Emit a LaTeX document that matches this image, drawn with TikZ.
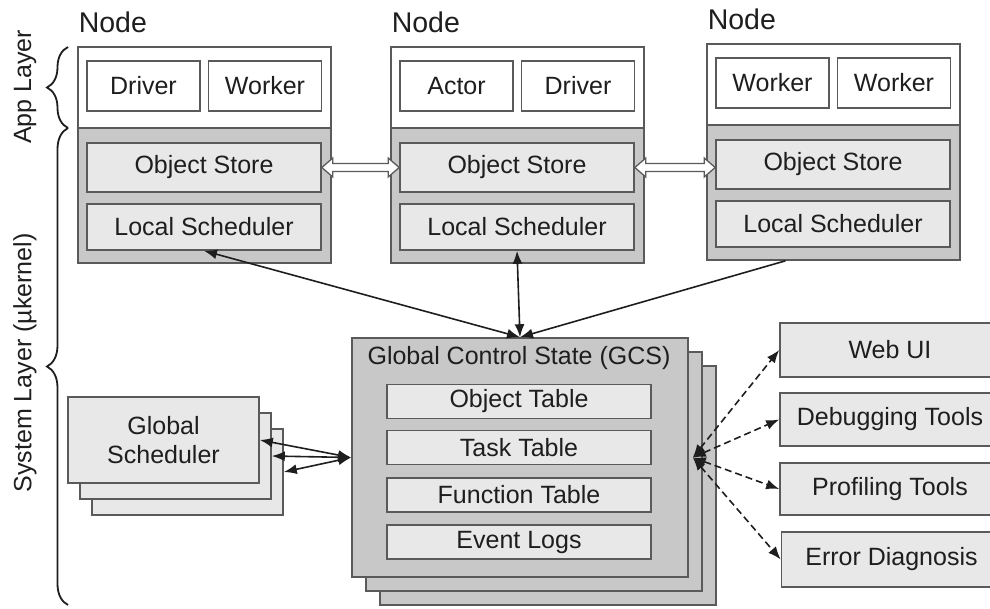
\documentclass[tikz,border=0pt]{standalone}
\usepackage{fontspec}
\setmainfont{Liberation Sans}
\usetikzlibrary{calc,arrows.meta,decorations.pathreplacing}
\definecolor{edgegray}{RGB}{90,90,90}
\definecolor{sysgray}{RGB}{200,200,200}
\definecolor{boxgray}{RGB}{232,232,232}
\definecolor{inkgray}{RGB}{30,30,30}
% hollow two-way arrow between two object stores
\newcommand{\fatlink}[2]{%
  \path (#1.east -| #2.west) coordinate (fatR);
  \draw[draw=edgegray, fill=white, line width=1.3pt] (#1.east) -- ++(11,-9.5) -- ++(0,5.5)
    -- ($(fatR)+(-11,-4)$) -- ++(0,-5.5) -- (fatR) -- ++(-11,9.5) -- ++(0,-5.5)
    -- ($(#1.east)+(11,4)$) -- ++(0,5.5) -- cycle;
}

\begin{document}
\begin{tikzpicture}[x=1pt, y=-1pt, line width=1.6pt,
    font=\fontsize{25}{28}\selectfont, text=inkgray,
    sz/.style 2 args={minimum width=#1pt, minimum height=#2pt},
    box/.style={draw=edgegray, rectangle, inner sep=0pt, align=center},
    appbox/.style={box, fill=white},
    sysbox/.style={box, fill=sysgray},
    litebox/.style={box, fill=boxgray},
    link/.style={draw=inkgray, line width=1.6pt},
    oneway/.style={-{Latex[length=13pt,width=10pt]}},
    twoway/.style={{Latex[length=13pt,width=10pt]}-{Latex[length=13pt,width=10pt]}},
    dashlink/.style={link, dash pattern=on 7pt off 4pt},
    layerbrace/.style={draw=inkgray, line width=1.8pt, decorate, decoration={brace, amplitude=21pt}}]
    \path[use as bounding box, clip] (0,0) rectangle (990,608);

    % the three nodes
    \foreach \nx/\ny/\id/\lefttxt/\righttxt in {78/47/a/Driver/Worker, 391/47/b/Actor/Driver, 707/44/c/Worker/Worker}{
      \begin{scope}[shift={(\nx,\ny)}]
        \node[appbox, sz={253}{81}] (app\id) at (126.5,40.5) {};
        \node[sysbox, sz={253}{135}] (sys\id) at (126.5,148.5) {};
        \node[appbox, sz={113}{50}] (left\id) at (65.5,39) {\lefttxt};
        \node[appbox, sz={113}{50}] (right\id) at (187,39) {\righttxt};
        \node[litebox, sz={234}{49}] (os\id) at (126,120.5) {Object Store};
        \node[litebox, sz={234}{46}] (ls\id) at (126,180) {Local Scheduler};
        \node[anchor=base west, inner sep=0pt, font=\fontsize{28.5}{30}\selectfont] (lbl\id) at (0,-15) {Node};
      \end{scope}
    }
    \fatlink{osa}{osb}
    \fatlink{osb}{osc}

    % global control state
    \node[sysbox, sz={336}{239}] (gcsc) at (548,485.5) {};
    \node[sysbox, sz={336}{239}] (gcsb) at (534,471.5) {};
    \node[sysbox, sz={336}{239}] (gcs) at (520,457.5) {};
    \node (gcstitle) at (519,358) {Global Control State (GCS)};
    \foreach \ty/\tname/\ttxt in {401.5/otab/Object Table, 447.5/ttab/Task Table, 495/ftab/Function Table, 542/etab/Event Logs}
      \node[litebox, sz={264}{34}] (\tname) at (519,\ty) {\ttxt};

    % global scheduler
    \node[litebox, sz={191}{86}] (gs3) at (187.5,472) {};
    \node[litebox, sz={191}{86}] (gs2) at (175.5,456) {};
    \node[litebox, sz={191}{86}, font=\fontsize{25}{29}\selectfont] (gs) at (163.5,440) {Global\\Scheduler};

    % tools
    \node[litebox, sz={220}{54}] (web) at (890,350) {Web UI};
    \node[litebox, sz={220}{53}] (dbg) at (890,419.5) {Debugging Tools};
    \node[litebox, sz={220}{52}] (prof) at (890,489) {Profiling Tools};
    \node[litebox, sz={220}{55}] (err) at (891.5,559.5) {Error Diagnosis};

    % connectors
    \draw[link, twoway] (lsa.south) -- (gcs.north);
    \draw[link, twoway] (lsb.south) -- (gcs.north);
    \draw[link, oneway] ($(sysc.south)+(-48,0)$) -- (gcs.north);
    \draw[link, twoway] (gs.east) -- (gcs.west);
    \draw[link, twoway] (gs2.east) -- (gcs.west);
    \draw[link, twoway] (gs3.east) -- (gcs.west);
    \foreach \t in {web,dbg,prof,err}
      \draw[dashlink, twoway] ($(gcs.east)+(4,0)$) -- (\t.west);

    % layers
    \draw[layerbrace] (68,128) -- (68,47);
    \draw[layerbrace] (68,605) -- (68,128);
    \node[rotate=90] (applbl) at (25,87) {App Layer};
    \node[rotate=90] (syslbl) at (25,363) {System Layer (µkernel)};
\end{tikzpicture}
\end{document}
